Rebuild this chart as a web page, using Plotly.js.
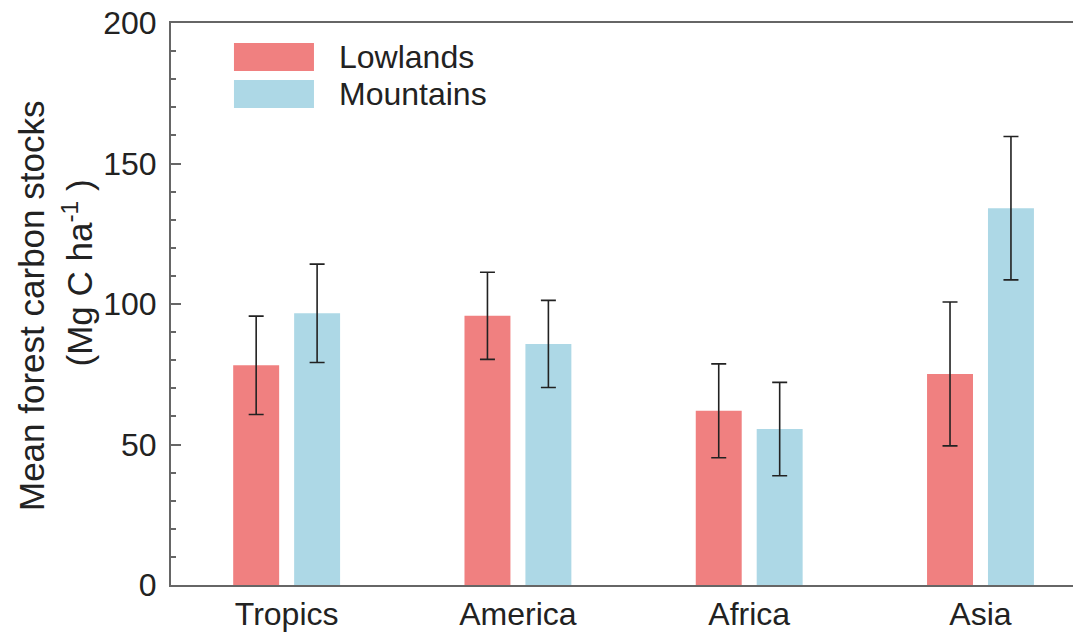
<!DOCTYPE html>
<html>
<head>
<meta charset="utf-8">
<script src="https://cdn.plot.ly/plotly-3.0.1.min.js"></script>
<style>html,body{margin:0;padding:0;background:#fff;}#chart{width:1073px;height:635px;}</style>
</head>
<body>
<div id="chart"></div>
<script>
// ---- data ----
const categories = ["Tropics", "America", "Africa", "Asia"];
const seriesNames = ["Lowlands", "Mountains"];
const lowlands = [78.2, 95.8, 62.0, 75.1];
const lowlandsErr = [17.5, 15.5, 16.7, 25.6];
const mountains = [96.7, 85.8, 55.5, 134.1];
const mountainsErr = [17.5, 15.5, 16.6, 25.5];
const yTickVals = [0, 50, 100, 150, 200];
const yTitleLine1 = "Mean forest carbon stocks";
const yTitleLine2 = "(Mg C ha<sup>-1</sup> )";

const colors = ["#F08080", "#ADD8E6"];
const FONT = "Liberation Sans, Arial, sans-serif";
const TXT = "#222";
const errStyle = {type: "data", symmetric: true, color: "#222", thickness: 1.6, width: 7.5};

const traces = [
  {type: "bar", name: seriesNames[0], x: categories, y: lowlands,
   marker: {color: colors[0]}, error_y: Object.assign({array: lowlandsErr}, errStyle)},
  {type: "bar", name: seriesNames[1], x: categories, y: mountains,
   marker: {color: colors[1]}, error_y: Object.assign({array: mountainsErr}, errStyle)}
];

// legend drawn as boxes + text in paper coordinates
const legShapes = [], legAnn = [];
const boxY = [[0.9644, 0.9146], [0.8986, 0.8488]];
const txtY = [0.9395, 0.8737];
seriesNames.forEach((n, i) => {
  legShapes.push({type: "rect", xref: "paper", yref: "paper", x0: 0.0698, x1: 0.1585,
    y0: boxY[i][1], y1: boxY[i][0], fillcolor: colors[i], line: {width: 0}});
  legAnn.push({xref: "paper", yref: "paper", x: 0.1840, y: txtY[i], xanchor: "left", yanchor: "middle",
    text: n, showarrow: false, font: {family: FONT, size: 32, color: TXT}});
});

const layout = {
  width: 1073, height: 635,
  margin: {l: 171, r: 0, t: 23, b: 50},
  paper_bgcolor: "#fff", plot_bgcolor: "#fff",
  barmode: "group", bargap: 0.473, bargroupgap: 0.246,
  showlegend: false,
  font: {family: FONT, size: 32, color: TXT},
  xaxis: {
    range: [-0.5, 3.4], showline: true, linecolor: "#666", linewidth: 2, mirror: true,
    ticks: "", showgrid: false, zeroline: false, tickfont: {family: FONT, size: 32, color: TXT}
  },
  yaxis: {
    range: [0, 200], tickvals: yTickVals, showline: true, linecolor: "#666", linewidth: 2,
    ticks: "inside", ticklen: 10, tickwidth: 2, tickcolor: "#666", ticklabelstandoff: 6,
    minor: {dtick: 10, ticks: "inside", ticklen: 5, tickwidth: 2, tickcolor: "#666"},
    showgrid: false, zeroline: false, tickfont: {family: FONT, size: 32, color: TXT}
  },
  shapes: legShapes,
  annotations: legAnn.concat([
    {xref: "paper", yref: "paper", x: (31 - 171) / 902, y: (585 - 306) / 562, textangle: -90,
     xanchor: "center", yanchor: "middle", text: yTitleLine1, showarrow: false,
     font: {family: FONT, size: 35, color: TXT}},
    {xref: "paper", yref: "paper", x: (77 - 171) / 902, y: (585 - 273.5) / 562, textangle: -90,
     xanchor: "center", yanchor: "middle", text: yTitleLine2, showarrow: false,
     font: {family: FONT, size: 35, color: TXT}}
  ])
};

Plotly.newPlot("chart", traces, layout, {staticPlot: true, displayModeBar: false});
</script>
</body>
</html>
